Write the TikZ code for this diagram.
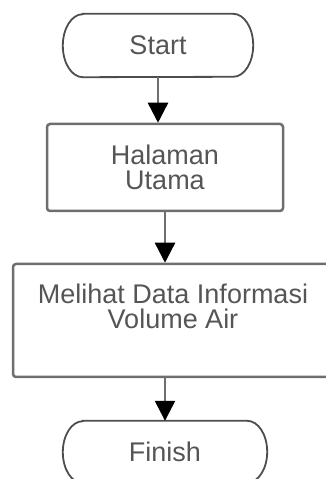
\documentclass[tikz,border=0pt]{standalone}
\usepackage{fontspec}
\setmainfont{Liberation Sans}
\usetikzlibrary{calc}
\usetikzlibrary{positioning}
\usetikzlibrary{arrows.meta}
\definecolor{linegray}{HTML}{6E6E6E}
\definecolor{textgray}{HTML}{555555}

\begin{document}
\begin{tikzpicture}[x=1pt, y=1pt]
    \tikzstyle{terminal}=[text=textgray, font=\fontsize{27}{25}\selectfont]
    \tikzstyle{outline}=[draw=linegray!70!black, line width=1.8pt]
    \tikzstyle{process}=[draw=linegray, line width=2.5pt, rounded corners=3pt, align=center, text=textgray, font=\fontsize{27}{25}\selectfont]
    \tikzstyle{flow}=[draw=linegray, line width=2.5pt, -{Triangle[width=20pt, length=20pt, black]}]

    \clip (0, 0) rectangle (326, 479);

    % Start and Halaman Utama
    \node[terminal, minimum width=190pt, minimum height=63pt] (start) at (158, 433.5) {Start};
    \draw[outline]
      ($(start.north west) + (20, 0)$) -- ($(start.north east) + (-20, 0)$)
      arc[start angle=90, end angle=-90, x radius=20, y radius=31.5]
      -- ($(start.south west) + (20, 0)$)
      arc[start angle=270, end angle=90, x radius=20, y radius=31.5] -- cycle;
    \node[process, minimum width=236pt, minimum height=87pt] (halaman) at (165, 311.5) {Halaman\\Utama};

    % Melihat Data and Finish
    \node[process, minimum width=320pt, minimum height=113pt, text depth=29pt] (melihat) at (173, 158.5) {Melihat Data Informasi\\Volume Air};
    \node[terminal, minimum width=204pt, minimum height=62pt] (finish) at (165, 27) {Finish};
    \draw[outline]
      ($(finish.north west) + (20, 0)$) -- ($(finish.north east) + (-20, 0)$)
      arc[start angle=90, end angle=-90, x radius=20, y radius=31]
      -- ($(finish.south west) + (20, 0)$)
      arc[start angle=270, end angle=90, x radius=20, y radius=31] -- cycle;

    % Flow
    \draw[flow] (start.south) -- (start.south |- halaman.north);
    \draw[flow] (halaman.south) -- (halaman.south |- melihat.north);
    \draw[flow] (finish.north |- melihat.south) -- (finish.north);
\end{tikzpicture}
\end{document}
